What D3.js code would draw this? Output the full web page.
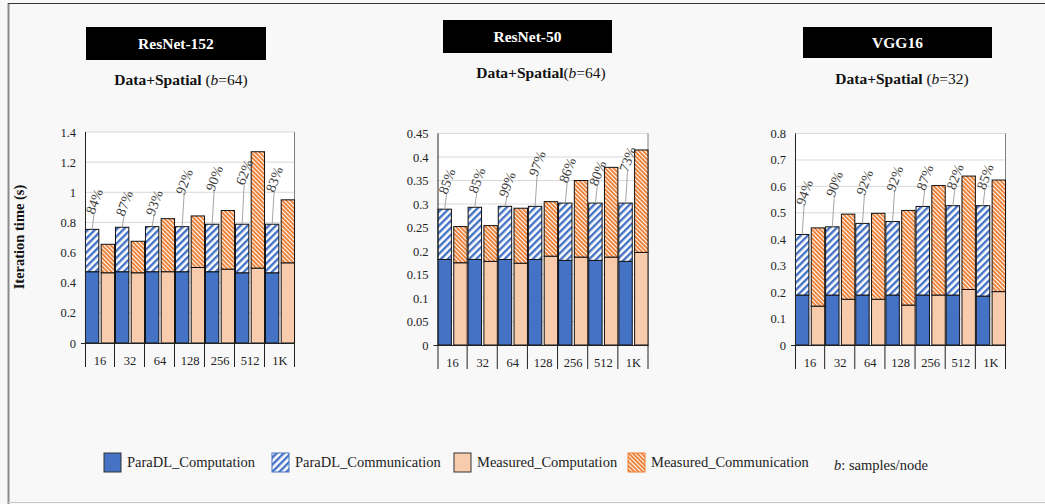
<!DOCTYPE html>
<html>
<head>
<meta charset="utf-8">
<script src="https://cdn.jsdelivr.net/npm/d3@7"></script>
<style>
    body { margin: 0; background: #f8f8f8; }
    svg { display: block; font-family: "Liberation Serif", "Times New Roman", serif; }
</style>
</head>
<body>
<svg id="chart"></svg>
<script>

// ---- data ----
const categories = ["16", "32", "64", "128", "256", "512", "1K"];

const r152ParaComp = [0.473, 0.473, 0.473, 0.473, 0.473, 0.466, 0.466];
const r152ParaComm = [0.281, 0.295, 0.299, 0.299, 0.315, 0.322, 0.322];
const r152MeasComp = [0.466, 0.466, 0.473, 0.501, 0.490, 0.497, 0.532];
const r152MeasComm = [0.189, 0.209, 0.352, 0.342, 0.389, 0.772, 0.418];
const r152Pct = ["84%", "87%", "93%", "92%", "90%", "62%", "83%"];
const r152Ticks = [0, 0.2, 0.4, 0.6, 0.8, 1, 1.2, 1.4];

const r50ParaComp = [0.182, 0.182, 0.182, 0.182, 0.180, 0.180, 0.178];
const r50ParaComm = [0.107, 0.111, 0.113, 0.113, 0.122, 0.122, 0.124];
const r50MeasComp = [0.175, 0.178, 0.174, 0.189, 0.187, 0.187, 0.197];
const r50MeasComm = [0.077, 0.076, 0.117, 0.116, 0.163, 0.191, 0.218];
const r50Pct = ["85%", "85%", "99%", "97%", "86%", "80%", "73%"];
const r50Ticks = [0, 0.05, 0.1, 0.15, 0.2, 0.25, 0.3, 0.35, 0.4, 0.45];

const vggParaComp = [0.189, 0.189, 0.189, 0.189, 0.189, 0.189, 0.185];
const vggParaComm = [0.229, 0.258, 0.271, 0.278, 0.335, 0.338, 0.342];
const vggMeasComp = [0.147, 0.173, 0.173, 0.151, 0.189, 0.210, 0.202];
const vggMeasComm = [0.296, 0.322, 0.325, 0.358, 0.414, 0.429, 0.422];
const vggPct = ["94%", "90%", "92%", "92%", "87%", "82%", "85%"];
const vggTicks = [0, 0.1, 0.2, 0.3, 0.4, 0.5, 0.6, 0.7, 0.8];

const legendLabels = ["ParaDL_Computation", "ParaDL_Communication", "Measured_Computation", "Measured_Communication"];

const BLUE = "#4472c4", PEACH = "#f8cbad", ORANGE = "#ed7d31";

const svg = d3.select("#chart").attr("width", 1045).attr("height", 504);

// hatch patterns
const defs = svg.append("defs");
defs.append("pattern")
    .attr("id", "paraHatch")
    .attr("patternUnits", "userSpaceOnUse")
    .attr("width", 5).attr("height", 5)
    .attr("patternTransform", "rotate(45)")
    .call(p => {
        p.append("rect").attr("width", 5).attr("height", 5).attr("fill", "#fff");
        p.append("rect").attr("width", 2.4).attr("height", 5).attr("fill", BLUE);
    });
defs.append("pattern")
    .attr("id", "measHatch")
    .attr("patternUnits", "userSpaceOnUse")
    .attr("width", 3).attr("height", 3)
    .attr("patternTransform", "rotate(-45)")
    .call(p => {
        p.append("rect").attr("width", 3).attr("height", 3).attr("fill", "#fff");
        p.append("rect").attr("width", 1.9).attr("height", 3).attr("fill", ORANGE);
    });

// outer frame
svg.append("line").attr("x1", 8.5).attr("x2", 8.5).attr("y1", 3).attr("y2", 504)
    .attr("stroke", "#8a8a8a").attr("stroke-width", 2);
svg.append("line").attr("x1", 8).attr("x2", 1045).attr("y1", 3.5).attr("y2", 3.5)
    .attr("stroke", "#3a3a3a").attr("stroke-width", 1.2);
svg.append("line").attr("x1", 8).attr("x2", 1045).attr("y1", 502.5).attr("y2", 502.5)
    .attr("stroke", "#c8c8c8");

class StackPanel {
    constructor(_config, _data) {
        this.config = _config;
        this.data = _data;
        this.initVis();
    }

    initVis() {
        let vis = this;
        const c = vis.config;

        vis.width = c.width;
        vis.height = c.height;

        vis.xScale = d3.scaleBand().domain(categories).range([0, vis.width]);
        vis.xInner = d3.scaleBand().domain(["para", "meas"])
            .range([0, vis.xScale.bandwidth()])
            .paddingInner(0.15).paddingOuter(0.03);
        vis.yScale = d3.scaleLinear().domain([0, d3.max(c.ticks)]).range([vis.height, 0]);

        vis.chart = svg.append("g").attr("transform", `translate(${c.left},${c.top})`);

        // title box
        svg.append("rect").attr("x", c.box.x).attr("y", c.box.y)
            .attr("width", c.box.w).attr("height", c.box.h).attr("fill", "#000");
        svg.append("text")
            .attr("x", c.box.x + c.box.w / 2).attr("y", c.box.y + c.box.h / 2 + 5.5)
            .attr("text-anchor", "middle").attr("fill", "#fff")
            .attr("font-weight", "bold").attr("font-size", 15.5)
            .text(c.title);

        const sub = svg.append("text")
            .attr("x", c.subX).attr("y", c.subY)
            .attr("text-anchor", "middle").attr("font-size", 15.5).attr("fill", "#111");
        sub.append("tspan").attr("font-weight", "bold").text("Data+Spatial");
        sub.append("tspan").text(c.subGap ? " (" : "(");
        sub.append("tspan").attr("font-style", "italic").text("b");
        sub.append("tspan").text(`=${c.batch})`);

        vis.updateVis();
    }

    updateVis() {
        let vis = this;
        const rows = categories.map((cat, i) => ({
            cat: cat,
            paraComp: vis.data.paraComp[i], paraComm: vis.data.paraComm[i],
            measComp: vis.data.measComp[i], measComm: vis.data.measComm[i]
        }));
        vis.paraStack = d3.stack().keys(["paraComp", "paraComm"])(rows);
        vis.measStack = d3.stack().keys(["measComp", "measComm"])(rows);
        vis.rows = rows;
        vis.renderVis();
    }

    renderVis() {
        let vis = this;
        const c = vis.config;

        // plot background + gridlines
        vis.chart.append("rect").attr("width", vis.width).attr("height", vis.height).attr("fill", "#fff");
        vis.chart.selectAll(".grid")
            .data(c.ticks.filter(t => t > 0))
            .join("line")
            .attr("x1", 0).attr("x2", vis.width)
            .attr("y1", d => vis.yScale(d)).attr("y2", d => vis.yScale(d))
            .attr("stroke", "#d9d9d9");
        vis.chart.append("line")
            .attr("x1", vis.width - 0.5).attr("x2", vis.width - 0.5)
            .attr("y1", 0).attr("y2", vis.height)
            .attr("stroke", "#7f7f7f");

        const fills = {
            paraComp: BLUE, paraComm: "url(#paraHatch)",
            measComp: PEACH, measComm: "url(#measHatch)"
        };

        const drawStack = (stacked, group) => {
            vis.chart.selectAll(`.layer-${group}`)
                .data(stacked)
                .join("g")
                .attr("class", `layer-${group}`)
                .attr("fill", d => fills[d.key])
                .selectAll("rect")
                .data(d => d)
                .join("rect")
                .attr("x", d => vis.xScale(d.data.cat) + vis.xInner(group))
                .attr("y", d => vis.yScale(d[1]))
                .attr("width", vis.xInner.bandwidth())
                .attr("height", d => vis.yScale(d[0]) - vis.yScale(d[1]))
                .attr("stroke", "#111")
                .attr("stroke-width", 1);
        };
        drawStack(vis.paraStack, "para");
        drawStack(vis.measStack, "meas");

        // y axis
        vis.chart.append("line").attr("x1", 0.5).attr("x2", 0.5)
            .attr("y1", 0).attr("y2", vis.height + 24).attr("stroke", "#222");
        vis.chart.append("line").attr("x1", -4).attr("x2", vis.width)
            .attr("y1", vis.height + 0.5).attr("y2", vis.height + 0.5).attr("stroke", "#222");
        vis.chart.selectAll(".ytick")
            .data(c.ticks)
            .join("text")
            .attr("x", -9).attr("y", d => vis.yScale(d) + 4.5)
            .attr("text-anchor", "end").attr("font-size", 12.5).attr("fill", "#222")
            .text(d => d3.format("~g")(d));

        // category axis
        vis.chart.selectAll(".sep")
            .data(categories.slice(1).concat(["end"]))
            .join("line")
            .attr("x1", (d, i) => vis.xScale.step() * (i + 1) - 0.5)
            .attr("x2", (d, i) => vis.xScale.step() * (i + 1) - 0.5)
            .attr("y1", vis.height).attr("y2", vis.height + 24)
            .attr("stroke", "#222");
        vis.chart.selectAll(".xlab")
            .data(categories)
            .join("text")
            .attr("x", d => vis.xScale(d) + vis.xScale.bandwidth() / 2)
            .attr("y", vis.height + 22)
            .attr("text-anchor", "middle").attr("font-size", 12.5).attr("fill", "#222")
            .text(d => d);

        // percentage labels with leader lines
        vis.rows.forEach((r, i) => {
            const bx = vis.xScale(r.cat) + vis.xInner("para") + vis.xInner.bandwidth() / 2;
            const by = vis.yScale(r.paraComp + r.paraComm);
            const lx = bx + 2, ly = by - c.lift[i];
            vis.chart.append("line")
                .attr("x1", bx).attr("y1", by)
                .attr("x2", lx).attr("y2", ly + 12)
                .attr("stroke", "#a6a6a6");
            vis.chart.append("text")
                .attr("transform", `translate(${lx},${ly}) rotate(-70)`)
                .attr("text-anchor", "middle").attr("dy", "0.35em")
                .attr("font-size", 14).attr("fill", "#404040")
                .text(c.pct[i]);
        });
    }
}

new StackPanel({
    title: "ResNet-152", batch: 64, subGap: true,
    left: 85, top: 132, width: 210, height: 211,
    box: { x: 86, y: 27, w: 180, h: 33 }, subX: 181, subY: 85,
    ticks: r152Ticks, pct: r152Pct, lift: [28, 24, 24, 45, 46, 52, 45]
}, { paraComp: r152ParaComp, paraComm: r152ParaComm, measComp: r152MeasComp, measComm: r152MeasComm });

new StackPanel({
    title: "ResNet-50", batch: 64, subGap: false,
    left: 437.5, top: 133.5, width: 211, height: 211.5,
    box: { x: 443, y: 20, w: 169, h: 33 }, subX: 541, subY: 78,
    ticks: r50Ticks, pct: r50Pct, lift: [28, 27, 22, 43, 33, 30, 44]
}, { paraComp: r50ParaComp, paraComm: r50ParaComm, measComp: r50MeasComp, measComm: r50MeasComm });

new StackPanel({
    title: "VGG16", batch: 32, subGap: true,
    left: 795, top: 133.5, width: 211, height: 211.5,
    box: { x: 803, y: 27, w: 189, h: 31 }, subX: 902, subY: 84,
    ticks: vggTicks, pct: vggPct, lift: [42, 43, 41, 43, 29, 29, 29]
}, { paraComp: vggParaComp, paraComm: vggParaComm, measComp: vggMeasComp, measComm: vggMeasComm });

// y axis title
svg.append("text")
    .attr("transform", "translate(24,237) rotate(-90)")
    .attr("text-anchor", "middle").attr("font-weight", "bold").attr("font-size", 14.5)
    .attr("fill", "#111")
    .text("Iteration time (s)");

// legend
const legendFills = [BLUE, "url(#paraHatch)", PEACH, "url(#measHatch)"];
const legendKeyX = [104, 272, 454, 628];
const legend = svg.append("g");
legendLabels.forEach((lab, i) => {
    legend.append("rect")
        .attr("x", legendKeyX[i]).attr("y", 453).attr("width", 17).attr("height", 19)
        .attr("fill", legendFills[i]).attr("stroke", i % 2 ? (i === 1 ? BLUE : ORANGE) : "#333")
        .attr("stroke-width", 1);
    legend.append("text")
        .attr("x", legendKeyX[i] + 23).attr("y", 467)
        .attr("font-size", 14.5).attr("fill", "#222")
        .text(lab);
});
const bNote = svg.append("text").attr("x", 834).attr("y", 470).attr("font-size", 14.5).attr("fill", "#222");
bNote.append("tspan").attr("font-style", "italic").text("b");
bNote.append("tspan").text(": samples/node");
</script>
</body>
</html>
